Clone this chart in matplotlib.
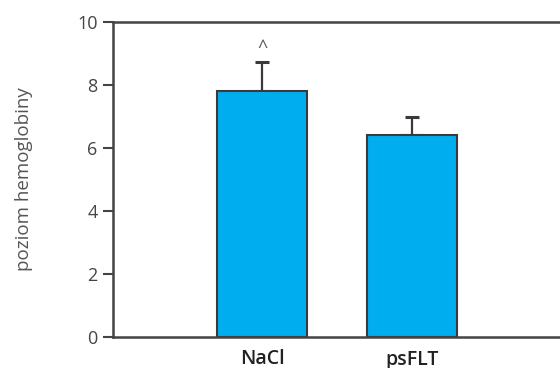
import matplotlib
matplotlib.use("Agg")
import matplotlib.pyplot as plt

plt.rcParams['font.family'] = ['Open Sans', 'DejaVu Sans']

# dane: średni poziom hemoglobiny i odchylenie (górne)
groups = ["NaCl", "psFLT"]
means = [7.8, 6.4]
errors = [0.93, 0.58]
marks = ["^", ""]

fig = plt.figure(figsize=(5.6, 3.68), dpi=100)
ax = fig.add_axes([113 / 560, 31 / 368, 449 / 560, 315 / 368])

x = list(range(len(groups)))
ax.bar(x, means, width=0.6, color="#00AEEF", edgecolor="#3a3a3a", linewidth=1.5, zorder=2)
ax.errorbar(x, means, yerr=[[0] * len(errors), errors], fmt="none",
            ecolor="#3a3a3a", elinewidth=1.6, capsize=5, capthick=2.2, zorder=1)

for xi, m, e, s in zip(x, means, errors, marks):
    if s:
        ax.text(xi, m + e + 0.15, s, ha="center", va="bottom", fontsize=13, color="#555555")

ax.set_xlim(-0.993, 2.0)
ax.set_ylim(0, 10)
ax.set_yticks([0, 2, 4, 6, 8, 10])
ax.set_xticks(x)
ax.set_xticklabels(groups, fontsize=14, fontweight="semibold", color="#222222")
ax.tick_params(axis="x", length=0, pad=9)
ax.tick_params(axis="y", length=7, width=1.5, color="#444444", labelsize=13,
               labelcolor="#444444", pad=4)

for side in ["left", "bottom", "top"]:
    ax.spines[side].set_color("#444444")
    ax.spines[side].set_linewidth(1.8)
ax.spines["right"].set_visible(False)

ax.set_ylabel("poziom hemoglobiny", fontsize=13.5, color="#555555", labelpad=32)

fig.savefig("out.png", dpi=100)
